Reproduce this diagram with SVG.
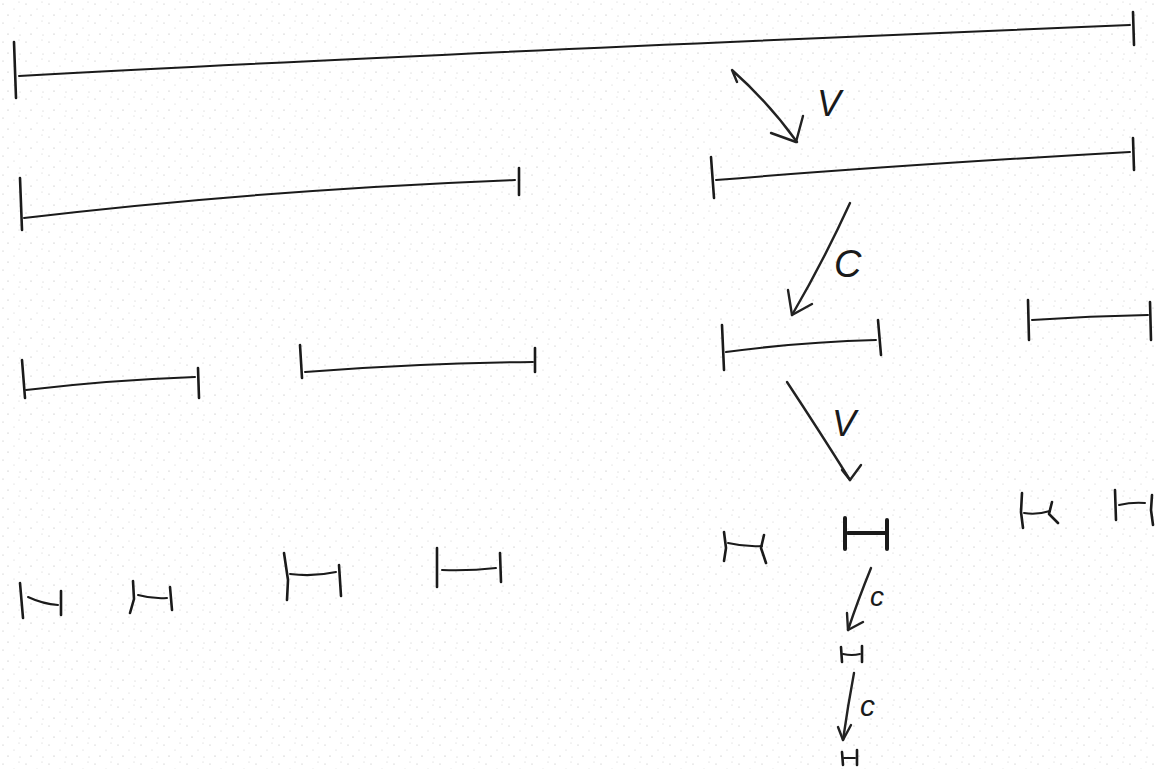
<svg xmlns="http://www.w3.org/2000/svg" width="1155" height="769" viewBox="0 0 1155 769">
<defs>
<pattern id="speck" width="23" height="19" patternUnits="userSpaceOnUse">
<circle cx="3" cy="4" r="0.6" fill="#999"/><circle cx="14" cy="9" r="0.5" fill="#aaa"/><circle cx="8" cy="15" r="0.6" fill="#888"/><circle cx="19" cy="2" r="0.5" fill="#aaa"/><circle cx="20" cy="16" r="0.5" fill="#999"/>
</pattern>
</defs>
<style>
.s{fill:none;stroke:#1a1a1a;stroke-width:2;stroke-linecap:round;stroke-linejoin:round}
.t{stroke-width:2.6}
.b{stroke-width:4}
.a{fill:none;stroke:#222;stroke-width:2.4;stroke-linecap:round;stroke-linejoin:round}
.l{font-family:"Liberation Sans",Arial,sans-serif;fill:#1a1a1a;font-style:italic}
</style>
<rect width="1155" height="769" fill="#fff"/>
<rect width="1155" height="769" fill="url(#speck)" opacity="0.7"/>

<g id="seg-top" class="s">
<path class="s t" d="M14,42 L16,98"/>
<path d="M19,76 Q400,55 1130,25"/>
<path class="s t" d="M1133,12 L1134,45"/>
</g>

<g id="seg-r2-left" class="s">
<path class="s t" d="M20,178 L22,230"/>
<path d="M24,218 Q260,190 515,180"/>
<path class="s t" d="M519,168 L519,195"/>
</g>
<g id="seg-r2-right" class="s">
<path class="s t" d="M711,157 L714,198"/>
<path d="M716,180 Q900,165 1130,152"/>
<path class="s t" d="M1133,138 L1134,170"/>
</g>

<g id="seg-r3-1" class="s">
<path class="s t" d="M22,360 L25,398"/>
<path d="M26,390 Q110,380 195,377"/>
<path class="s t" d="M198,368 L199,398"/>
</g>
<g id="seg-r3-2" class="s">
<path class="s t" d="M300,345 L302,378"/>
<path d="M305,372 Q420,363 533,362"/>
<path class="s t" d="M535,348 L535,372"/>
</g>
<g id="seg-r3-3" class="s">
<path class="s t" d="M722,325 L724,370"/>
<path d="M726,352 Q800,342 876,340"/>
<path class="s t" d="M878,320 L881,355"/>
</g>
<g id="seg-r3-4" class="s">
<path class="s t" d="M1028,300 L1029,340"/>
<path d="M1032,320 Q1090,316 1148,315"/>
<path class="s t" d="M1150,302 L1151,340"/>
</g>

<g id="seg-r4-1" class="s">
<path class="s t" d="M20,583 L23,618"/>
<path d="M28,597 Q43,604 58,605"/>
<path class="s t" d="M61,591 L61,615"/>
</g>
<g id="seg-r4-2" class="s">
<path class="s t" d="M133,581 L134,599 L130,613"/>
<path d="M138,595 Q152,599 167,598"/>
<path class="s t" d="M170,587 L172,610"/>
</g>
<g id="seg-r4-3" class="s">
<path class="s t" d="M284,553 L288,580 L287,600"/>
<path d="M290,574 Q313,577 336,572"/>
<path class="s t" d="M339,565 L341,596"/>
</g>
<g id="seg-r4-4" class="s">
<path class="s t" d="M437,548 L437,587"/>
<path d="M442,570 Q470,571 496,568"/>
<path class="s t" d="M500,553 L501,582"/>
</g>
<g id="seg-r4-5" class="s">
<path class="s t" d="M724,532 L726,548 L724,561"/>
<path d="M728,543 Q745,547 762,546"/>
<path class="s t" d="M764,535 L761,548 L766,563"/>
</g>
<g id="seg-r4-6" class="s">
<path class="s b" d="M845,518 L845,549"/>
<path class="s b" d="M848,533 L885,533"/>
<path class="s b" d="M887,520 L887,549"/>
</g>
<g id="seg-r4-7" class="s">
<path class="s t" d="M1022,493 L1021,512 L1023,528"/>
<path d="M1024,513 Q1037,515 1050,511"/>
<path class="s t" d="M1052,502 L1049,514 L1058,523"/>
</g>
<g id="seg-r4-8" class="s">
<path class="s t" d="M1115,490 L1116,520"/>
<path d="M1119,505 Q1132,502 1145,503"/>
<path class="s t" d="M1152,495 L1151,510 L1153,525"/>
</g>
<g id="seg-r5" class="s">
<path class="s t" d="M841,647 L842,662"/>
<path d="M843,654 Q852,656 860,654"/>
<path class="s t" d="M862,646 L862,662"/>
</g>
<g id="seg-r6" class="s">
<path class="s t" d="M842,752 L843,765"/>
<path d="M844,758 L855,758"/>
<path class="s t" d="M857,750 L857,765"/>
</g>

<g id="connectors">
<g id="arrow-v1">
<path class="a" d="M737,82 L732,70 Q768,102 797,142"/>
<path class="a" d="M771,133 L796,142 L803,116"/>
<text class="l" x="817" y="116" font-size="36">V</text>
</g>
<g id="arrow-c1">
<path class="a" d="M850,203 Q823,262 792,315"/>
<path class="a" d="M788,290 L792,315 L812,304"/>
<text class="l" x="834" y="277" font-size="38">C</text>
</g>
<g id="arrow-v2">
<path class="a" d="M787,382 Q820,432 850,480"/>
<path class="a" d="M842,470 L850,480 L861,465"/>
<text class="l" x="832" y="436" font-size="36">V</text>
</g>
<g id="arrow-c2">
<path class="a" d="M871,568 Q858,600 848,630"/>
<path class="a" d="M847,613 L848,630 L863,622"/>
<text class="l" x="870" y="606" font-size="28">c</text>
</g>
<g id="arrow-c3">
<path class="a" d="M854,673 Q848,705 843,740"/>
<path class="a" d="M838,727 L843,740 L851,725"/>
<text class="l" x="860" y="716" font-size="30">c</text>
</g>
</g>
</svg>
